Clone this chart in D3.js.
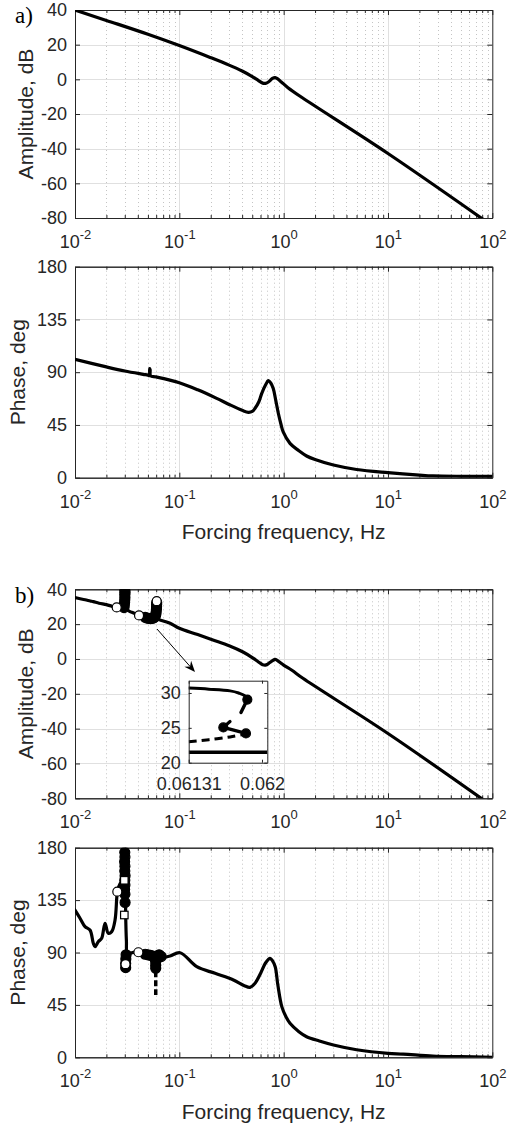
<!DOCTYPE html>
<html><head><meta charset="utf-8">
<script src="https://cdn.jsdelivr.net/npm/d3@7"></script>
<style>
body{margin:0;background:#fff}
svg{display:block}
</style>
</head><body>
<svg id="c" width="511" height="1130"></svg>
<script>
// ---------------- DATA ----------------
const xTicks = [0.01, 0.1, 1, 10, 100];
const ampTicks = [-80, -60, -40, -20, 0, 20, 40];
const phaseTicks = [0, 45, 90, 135, 180];
const insetYTicks = [20, 25, 30];
const insetXTicks = [0.06131, 0.062];

// panel a) amplitude
const aAmpFreq = [0.01, 0.02, 0.05, 0.1, 0.2, 0.3, 0.4, 0.5, 0.57, 0.63, 0.67, 0.72, 0.78, 0.83, 0.88, 0.95, 1.1, 1.5, 10, 100];
const aAmpDb   = [40, 34, 26, 19.5, 12.5, 8.2, 4.8, 1.6, -0.6, -2.2, -2.3, -1.4, 0.5, 1.0, 0.2, -1.5, -4.8, -10.5, -42.8, -84.5];

// panel a) phase
const aPhFreq = [0.01, 0.02, 0.03, 0.045, 0.05, 0.0515, 0.052, 0.0525, 0.053, 0.06, 0.1, 0.15, 0.228, 0.3, 0.4, 0.459, 0.5, 0.532, 0.58, 0.617, 0.67, 0.713, 0.75, 0.795, 0.84, 0.889, 0.94, 0.99, 1.15, 1.4, 1.66, 2, 3, 5, 10, 20, 27, 50, 100];
const aPhDeg  = [101, 94.5, 91, 88.2, 87.5, 87, 93, 92, 87, 86, 81, 75, 67.7, 62.5, 57.5, 55.8, 56.5, 59.2, 65, 72, 79, 82.8, 81, 76, 66, 55, 46, 39, 29.3, 23, 18.5, 15.5, 10.8, 7, 4.3, 2.2, 1.5, 1.2, 1.2];

// panel b) amplitude
const bAmpFreq = [0.01, 0.0112, 0.0125, 0.014, 0.015, 0.017, 0.02, 0.0225, 0.0251, 0.028, 0.0297, 0.033, 0.037, 0.0411, 0.045, 0.05, 0.055, 0.06, 0.0653, 0.0815, 0.1, 0.15, 0.21, 0.3, 0.408, 0.5, 0.57, 0.63, 0.68, 0.74, 0.83, 0.9, 1.0, 1.2, 1.53, 10, 100];
const bAmpDb   = [35.2, 34.6, 34.0, 33.3, 32.9, 32.0, 31.2, 30.3, 29.5, 29.2, 29.0, 27.5, 26.2, 25.0, 24.2, 23.6, 23.3, 23.0, 22.4, 20.5, 17.6, 14, 10.9, 7.6, 4.0, 0.8, -1.6, -3.3, -3.4, -2.0, -0.2, -1.5, -3.5, -6.5, -11.1, -42.8, -84.5];
const bAmpBranch1Freq = [0.0295, 0.0297, 0.0299, 0.0300, 0.0301, 0.0300, 0.0302, 0.0300];
const bAmpBranch1Db   = [29.5, 31, 32.5, 34, 35.5, 37, 38.2, 39.3];
const bAmpBranch2Freq = [0.047, 0.049, 0.051, 0.053, 0.055, 0.057, 0.0585, 0.0595, 0.0600, 0.0603, 0.0605, 0.0606, 0.0607];
const bAmpBranch2Db   = [23.9, 23.5, 23.3, 23.2, 23.3, 23.6, 24.2, 25.5, 27, 28.5, 30, 31.3, 32.3];
const bAmpOpenFreq = [0.0251, 0.0411, 0.0607];
const bAmpOpenDb   = [29.6, 25.0, 33.2];

// panel b) phase
const bPhFreq = [0.01, 0.01117, 0.01247, 0.01392, 0.01498, 0.01555, 0.01672, 0.01802, 0.0194, 0.02086, 0.02249, 0.0242, 0.02511, 0.02544, 0.027, 0.0284, 0.0297, 0.0304, 0.0306, 0.0311, 0.0317, 0.0337, 0.0405, 0.0469, 0.052, 0.058, 0.0678, 0.0814, 0.1016, 0.147, 0.22, 0.33, 0.42, 0.476, 0.532, 0.6, 0.67, 0.741, 0.78, 0.83, 0.88, 0.96, 1.05, 1.15, 1.4, 1.66, 2.2, 3, 5, 10, 14, 27, 50, 100];
const bPhDeg  = [126.5, 119.4, 112.2, 109.3, 97.9, 95, 99.3, 102.2, 115.1, 106.5, 107.9, 117.9, 136.5, 142.2, 149, 151, 152, 145, 122, 100, 88, 89.3, 90.2, 88, 86.5, 85.5, 85.5, 87, 89.8, 77.8, 72.1, 66.4, 61.5, 60.1, 63.6, 72, 81, 85, 83, 77.8, 62, 43.5, 35, 29.2, 22, 17.7, 14, 10.6, 6.5, 3.4, 2.8, 1.1, 0.5, 0];
const bPhBranch1Freq = [0.0300, 0.0301, 0.0299, 0.0301, 0.0300, 0.0302, 0.0300, 0.0301, 0.0299, 0.0301, 0.0302];
const bPhBranch1Deg  = [176, 172, 168, 164, 160, 156, 152, 148, 144, 140, 133];
const bPhBranch2Freq = [0.0309, 0.0307, 0.0306, 0.0306];
const bPhBranch2Deg  = [88, 84.5, 80.5, 77];
const bPhBranch3Freq = [0.047, 0.05, 0.053, 0.056, 0.058, 0.0594, 0.0594, 0.0594, 0.061, 0.064, 0.067];
const bPhBranch3Deg  = [88.5, 88, 87.5, 87, 85, 82, 79, 76.5, 87, 88, 86.5];
const bPhDashFreq = [0.0594, 0.0594];
const bPhDashDeg  = [74, 53.5];
const bPhOpenFreq = [0.02544, 0.0405, 0.0305];
const bPhOpenDeg  = [142.2, 90.2, 80];
const bPhSquareFreq = [0.0297, 0.0297];
const bPhSquareDeg  = [152, 122.2];

// inset (zoom of panel b amplitude)
const insetTopFreq = [0.06131, 0.0615, 0.0617, 0.06178, 0.06184, 0.061862];
const insetTopDb   = [30.7, 30.55, 30.3, 30.0, 29.6, 29.06];
const insetDropFreq = [0.061862, 0.061802];
const insetDropDb   = [29.06, 27.2];
const insetShortFreq = [0.061636, 0.061699];
const insetShortDb   = [25.06, 25.9];
const insetMidFreq = [0.061636, 0.061849];
const insetMidDb   = [25.06, 24.2];
const insetDashFreq = [0.06131, 0.0615, 0.0617, 0.06184];
const insetDashDb   = [23.0, 23.3, 23.7, 24.1];
const insetBottomFreq = [0.06131, 0.06205];
const insetBottomDb   = [21.5, 21.5];
const insetDotFreq = [0.061862, 0.061636, 0.061849];
const insetDotDb   = [29.06, 25.06, 24.2];

// ---------------- DRAWING ----------------
const FONT = "'Liberation Sans', Arial, sans-serif";
const INK = "#262626";
const svg = d3.select("#c");
svg.append("rect").attr("width", 511).attr("height", 1130).attr("fill", "#fff");
const L = 75, R = 492.3;
const x = d3.scaleLog().domain([0.01, 100]).range([L, R]);
const xMinor = [];
for (let e = -2; e < 2; e++) for (let m = 2; m < 10; m++) xMinor.push(+(m * Math.pow(10, e)).toPrecision(6));

const defs = svg.append("defs");

function styleAxis(s) {
  s.attr("font-family", FONT).attr("font-size", 18).attr("color", INK);
  s.selectAll(".domain").attr("stroke-width", 1);
}

function drawPanel(c) {
  const y = d3.scaleLinear().domain(c.ydom).range([c.bottom, c.top]);
  const g = svg.append("g");
  defs.append("clipPath").attr("id", "clip" + c.id).append("rect")
    .attr("x", L).attr("y", c.top).attr("width", R - L).attr("height", c.bottom - c.top);

  // grid
  g.append("g").selectAll("line").data(xMinor).join("line")
    .attr("x1", d => Math.round(x(d)) + 0.5).attr("x2", d => Math.round(x(d)) + 0.5)
    .attr("y1", c.top).attr("y2", c.bottom)
    .attr("stroke", "#c4c4c4").attr("stroke-width", 1).attr("stroke-dasharray", "1,3");
  g.append("g").selectAll("line").data(xTicks.slice(1, -1)).join("line")
    .attr("x1", d => Math.round(x(d)) + 0.5).attr("x2", d => Math.round(x(d)) + 0.5)
    .attr("y1", c.top).attr("y2", c.bottom)
    .attr("stroke", "#e0e0e0").attr("stroke-width", 1);
  g.append("g").selectAll("line").data(c.yticks.slice(1, -1)).join("line")
    .attr("x1", L).attr("x2", R)
    .attr("y1", d => Math.round(y(d)) + 0.5).attr("y2", d => Math.round(y(d)) + 0.5)
    .attr("stroke", "#e0e0e0").attr("stroke-width", 1);

  // axes
  const ax = g.append("g");
  ax.append("g").attr("transform", `translate(0,${c.bottom})`)
    .call(d3.axisBottom(x).tickValues(xMinor).tickSize(-3).tickSizeOuter(0).tickFormat(""))
    .call(styleAxis);
  ax.append("g").attr("transform", `translate(0,${c.top})`)
    .call(d3.axisTop(x).tickValues(xMinor).tickSize(-3).tickSizeOuter(0).tickFormat(""))
    .call(styleAxis);
  ax.append("g").attr("transform", `translate(0,${c.top})`)
    .call(d3.axisTop(x).tickValues(xTicks).tickSize(-5).tickSizeOuter(0).tickFormat(""))
    .call(styleAxis);
  ax.append("g").attr("transform", `translate(0,${c.bottom})`)
    .call(d3.axisBottom(x).tickValues(xTicks).tickSize(-5).tickSizeOuter(0).tickPadding(0))
    .call(styleAxis)
    .call(s => s.selectAll(".tick text").attr("dy", null).attr("y", 30).text(null)
      .each(function (d) {
        const t = d3.select(this);
        t.append("tspan").text("10");
        t.append("tspan").attr("dy", -9).attr("font-size", 13).text(String(Math.round(Math.log10(d))));
      }));
  ax.append("g").attr("transform", `translate(${L},0)`)
    .call(d3.axisLeft(y).tickValues(c.yticks).tickSize(-5).tickSizeOuter(0).tickPadding(8).tickFormat(d => String(d)))
    .call(styleAxis);
  ax.append("g").attr("transform", `translate(${R},0)`)
    .call(d3.axisRight(y).tickValues(c.yticks).tickSize(-5).tickSizeOuter(0).tickFormat(""))
    .call(styleAxis);

  // y label
  svg.append("text")
    .attr("transform", `translate(${c.ylabelX},${(c.top + c.bottom) / 2}) rotate(-90)`)
    .attr("text-anchor", "middle").attr("font-family", FONT).attr("font-size", 21).attr("fill", INK)
    .text(c.ylabel);
  if (c.xlabelY) {
    svg.append("text").attr("x", (L + R) / 2).attr("y", c.xlabelY)
      .attr("text-anchor", "middle").attr("font-family", FONT).attr("font-size", 21).attr("fill", INK)
      .text("Forcing frequency, Hz");
  }
  const plot = svg.append("g").attr("clip-path", `url(#clip${c.id})`);
  return { y, plot };
}

function path(sel, xs, ys, xs_, ys_, opts) {
  const curve = opts.curve || d3.curveLinear;
  const data = d3.zip(xs, ys);
  return sel.append("path").datum(data)
    .attr("d", d3.line().x(d => xs_(d[0])).y(d => ys_(d[1])).curve(curve))
    .attr("fill", "none").attr("stroke", "#000").attr("stroke-width", opts.w || 3.2)
    .attr("stroke-linejoin", "round").attr("stroke-linecap", opts.cap || "round")
    .attr("stroke-dasharray", opts.dash || null);
}
function dots(sel, xs, ys, xs_, ys_, r, fill) {
  sel.append("g").selectAll("circle").data(d3.zip(xs, ys)).join("circle")
    .attr("cx", d => xs_(d[0])).attr("cy", d => ys_(d[1])).attr("r", r)
    .attr("fill", fill).attr("stroke", "#000").attr("stroke-width", 1.2);
}
function squares(sel, xs, ys, xs_, ys_, s) {
  sel.append("g").selectAll("rect").data(d3.zip(xs, ys)).join("rect")
    .attr("x", d => xs_(d[0]) - s / 2).attr("y", d => ys_(d[1]) - s / 2).attr("width", s).attr("height", s)
    .attr("fill", "#fff").attr("stroke", "#000").attr("stroke-width", 1.2);
}
const smooth = d3.curveCatmullRom.alpha(0.5);

// ---- panel a amplitude
const pA1 = drawPanel({ id: "a1", top: 10, bottom: 218, ydom: [-80, 40], yticks: ampTicks, ylabel: "Amplitude, dB", ylabelX: 33 });
path(pA1.plot, aAmpFreq, aAmpDb, x, pA1.y, { curve: smooth });

// ---- panel a phase
const pA2 = drawPanel({ id: "a2", top: 266.7, bottom: 477.7, ydom: [0, 180], yticks: phaseTicks, ylabel: "Phase, deg", ylabelX: 25, xlabelY: 539 });
path(pA2.plot, aPhFreq, aPhDeg, x, pA2.y, { curve: smooth });

// ---- panel b amplitude
const pB1 = drawPanel({ id: "b1", top: 589.3, bottom: 798.3, ydom: [-80, 40], yticks: ampTicks, ylabel: "Amplitude, dB", ylabelX: 33 });
path(pB1.plot, bAmpFreq, bAmpDb, x, pB1.y, { curve: smooth });
path(pB1.plot, bAmpBranch1Freq, bAmpBranch1Db, x, pB1.y, {});
path(pB1.plot, bAmpBranch2Freq, bAmpBranch2Db, x, pB1.y, {});
dots(pB1.plot, bAmpBranch1Freq, bAmpBranch1Db, x, pB1.y, 5, "#000");
dots(pB1.plot, bAmpBranch2Freq, bAmpBranch2Db, x, pB1.y, 5, "#000");
dots(pB1.plot, bAmpOpenFreq, bAmpOpenDb, x, pB1.y, 4.5, "#fff");

// ---- panel b phase
const pB2 = drawPanel({ id: "b2", top: 847.7, bottom: 1057.3, ydom: [0, 180], yticks: phaseTicks, ylabel: "Phase, deg", ylabelX: 25, xlabelY: 1119 });
path(pB2.plot, bPhFreq, bPhDeg, x, pB2.y, { curve: smooth });
path(pB2.plot, bPhDashFreq, bPhDashDeg, x, pB2.y, { dash: "6,3", cap: "butt", w: 3.5 });
path(pB2.plot, bPhBranch1Freq, bPhBranch1Deg, x, pB2.y, {});
path(pB2.plot, bPhBranch2Freq, bPhBranch2Deg, x, pB2.y, {});
path(pB2.plot, bPhBranch3Freq, bPhBranch3Deg, x, pB2.y, {});
dots(pB2.plot, bPhBranch1Freq, bPhBranch1Deg, x, pB2.y, 5, "#000");
dots(pB2.plot, bPhBranch2Freq, bPhBranch2Deg, x, pB2.y, 5, "#000");
dots(pB2.plot, bPhBranch3Freq, bPhBranch3Deg, x, pB2.y, 5, "#000");
dots(pB2.plot, bPhOpenFreq, bPhOpenDeg, x, pB2.y, 4.5, "#fff");
squares(pB2.plot, bPhSquareFreq, bPhSquareDeg, x, pB2.y, 7.5);

// ---- arrow (annotation, panel b amplitude coords)
const arrowFrom = [0.0611, 17.2], arrowTo = [0.1414, -7.5];
{
  const x0 = x(arrowFrom[0]), y0 = pB1.y(arrowFrom[1]);
  const x1 = x(arrowTo[0]), y1 = pB1.y(arrowTo[1]);
  const ang = Math.atan2(y1 - y0, x1 - x0);
  const len = 11, wid = 4.5, back = 7.5;
  const bx = x1 - len * Math.cos(ang), by = y1 - len * Math.sin(ang);
  const nx = -Math.sin(ang), ny = Math.cos(ang);
  const mx = x1 - back * Math.cos(ang), my = y1 - back * Math.sin(ang);
  svg.append("line").attr("x1", x0).attr("y1", y0).attr("x2", mx).attr("y2", my).attr("stroke", "#000").attr("stroke-width", 1);
  svg.append("path").attr("d", `M${x1},${y1}L${bx + nx * wid},${by + ny * wid}L${mx},${my}L${bx - nx * wid},${by - ny * wid}Z`).attr("fill", "#000");
}

// ---- inset
{
  const iL = 188.7, iR = 267.3, iT = 680.7, iB = 762.7;
  const ix = d3.scaleLinear().domain([0.06131, 0.06205]).range([iL, iR]);
  const iy = d3.scaleLinear().domain([20, 31.76]).range([iB, iT]);
  const g = svg.append("g");
  g.append("rect").attr("x", iL).attr("y", iT).attr("width", iR - iL).attr("height", iB - iT).attr("fill", "#fff");
  defs.append("clipPath").attr("id", "clipIn").append("rect").attr("x", iL).attr("y", iT).attr("width", iR - iL).attr("height", iB - iT);
  const p = g.append("g").attr("clip-path", "url(#clipIn)");
  path(p, insetBottomFreq, insetBottomDb, ix, iy, { w: 3.4, cap: "butt" });
  path(p, insetTopFreq, insetTopDb, ix, iy, { curve: smooth, w: 3 });
  path(p, insetDropFreq, insetDropDb, ix, iy, { w: 3.4 });
  path(p, insetDashFreq, insetDashDb, ix, iy, { curve: smooth, w: 3, dash: "8,5", cap: "butt" });
  path(p, insetShortFreq, insetShortDb, ix, iy, { w: 3.2 });
  path(p, insetMidFreq, insetMidDb, ix, iy, { w: 3.2 });
  dots(p, insetDotFreq, insetDotDb, ix, iy, 4.5, "#000");
  g.append("g").attr("transform", `translate(${iL},0)`)
    .call(d3.axisLeft(iy).tickValues(insetYTicks).tickSize(-3).tickSizeOuter(0).tickPadding(8).tickFormat(d => String(d)))
    .call(styleAxis);
  g.append("g").attr("transform", `translate(${iR},0)`)
    .call(d3.axisRight(iy).tickValues(insetYTicks).tickSize(-3).tickSizeOuter(0).tickFormat(""))
    .call(styleAxis);
  g.append("g").attr("transform", `translate(0,${iB})`)
    .call(d3.axisBottom(ix).tickValues(insetXTicks).tickSize(-3).tickSizeOuter(0).tickPadding(0).tickFormat(d => String(d)))
    .call(styleAxis)
    .call(s => s.selectAll(".tick text").attr("dy", null).attr("y", 27));
  g.append("g").attr("transform", `translate(0,${iT})`)
    .call(d3.axisTop(ix).tickValues(insetXTicks).tickSize(-3).tickSizeOuter(0).tickFormat(""))
    .call(styleAxis);
}

// ---- panel letters
svg.append("text").attr("x", 15).attr("y", 23).attr("font-family", "'Liberation Serif', 'Times New Roman', serif").attr("font-size", 23).attr("fill", "#000").text("a)");
svg.append("text").attr("x", 15).attr("y", 603).attr("font-family", "'Liberation Serif', 'Times New Roman', serif").attr("font-size", 23).attr("fill", "#000").text("b)");
</script>
</body></html>
